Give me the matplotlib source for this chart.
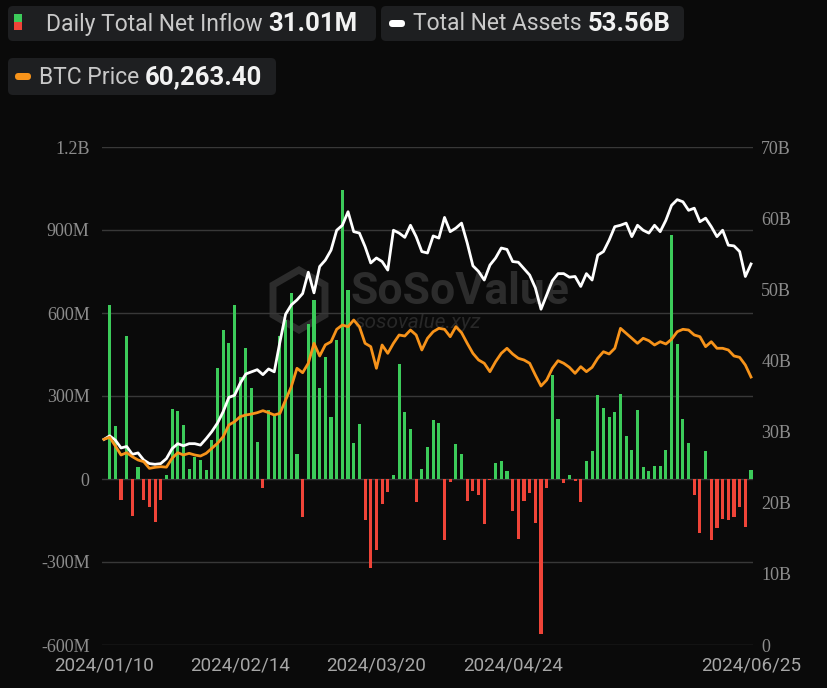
import matplotlib
matplotlib.use("Agg")
import matplotlib.pyplot as plt
from matplotlib import font_manager
from matplotlib.patches import FancyBboxPatch, Rectangle, RegularPolygon
from matplotlib.transforms import IdentityTransform
import pandas as pd

# trading days (US market), 2024/01/10 .. 2024/06/25
holidays = ["2024-01-15", "2024-02-19", "2024-03-29", "2024-05-27", "2024-06-19"]
dates = [d for d in pd.bdate_range("2024-01-10", "2024-06-25") if d.strftime("%Y-%m-%d") not in holidays]

# daily total net inflow, million USD
net_inflow = [
    0, 630, 190, -77, 516, -133, 42, -75, -101, -155,
    -77, 13, 254, 246, 196, 37, 80, 67, 34, 140,
    402, 540, 493, 630, 370, 475, 330, 134, -33, 250,
    227, 518, 576, 672, 92, -137, 562, 646, 330, 441,
    224, 501, 1044, 682, 131, 200, -149, -322, -258, -89,
    -47, 16, 417, 242, 182, -83, 37, 116, 212, 202,
    -219, -12, 125, 92, -80, -45, -58, -163, -3, 58,
    64, 28, -117, -217, -81, -49, -159, -559, -31, 375,
    218, -13, 13, -7, -83, 65, 101, 302, 258, 224,
    242, 306, 154, 106, 251, 43, 28, 48, 48, 104,
    883, 487, 217, 130, -59, -195, 100, -222, -178, -145,
    -149, -137, -102, -173, 31.01,
]

# total net assets, billion USD
net_assets = [
    28.9, 29.4, 28.8, 27.7, 27.9, 26.8, 27.0, 26.0, 25.5, 25.4,
    25.5, 26.2, 27.6, 28.3, 28.0, 28.3, 28.3, 28.1, 29.0, 30.0,
    31.2, 32.8, 34.8, 35.1, 36.8, 38.1, 38.4, 38.7, 38.0, 38.8,
    38.4, 42.6, 46.5, 47.8, 48.5, 49.4, 52.4, 49.5, 53.2, 54.1,
    55.5, 58.3, 59.0, 60.9, 58.1, 57.9, 56.0, 53.7, 54.4, 53.9,
    52.7, 58.3, 57.9, 57.3, 59.0, 57.4, 55.3, 55.1, 57.5, 57.2,
    60.1, 58.1, 58.6, 59.3, 56.5, 53.3, 52.5, 51.3, 53.4, 54.4,
    55.8, 55.6, 53.9, 53.8, 52.9, 52.0, 50.2, 47.2, 49.2, 51.2,
    52.2, 52.2, 51.7, 51.8, 50.4, 52.2, 51.3, 54.8, 55.3, 56.9,
    58.8, 59.0, 59.3, 57.4, 59.0, 58.3, 57.9, 59.0, 58.1, 59.7,
    61.8, 62.6, 62.3, 61.1, 61.4, 59.5, 60.0, 58.8, 57.4, 58.3,
    56.2, 56.1, 55.3, 51.8, 53.56,
]

# BTC price, USD
btc_price = [
    46260, 46710, 44760, 42730, 43250, 42350, 41610, 41230, 39730, 39960,
    40100, 40000, 41990, 43250, 42730, 43110, 42730, 42500, 43110, 44240,
    45360, 46850, 49480, 50220, 51350, 51730, 51950, 52250, 52700, 52250,
    51730, 52100, 55100, 58090, 62230, 61240, 63360, 67850, 65000, 67500,
    68200, 71000, 71970, 71590, 73090, 71590, 67850, 67100, 62230, 67470,
    65600, 67850, 69720, 69490, 70840, 69720, 66350, 68980, 70460, 71220,
    71000, 69340, 71590, 70240, 67850, 65600, 64100, 63360, 61470, 63730,
    65600, 66730, 65450, 64480, 64100, 63360, 60720, 58250, 59600, 62230,
    63940, 63360, 62450, 61100, 62600, 61470, 62450, 64500, 65960, 65450,
    66730, 71220, 70100, 68980, 67850, 68980, 68440, 67470, 68210, 67700,
    68750, 70460, 71000, 70840, 69720, 69340, 67100, 68210, 66730, 66730,
    66350, 65000, 64700, 62970, 60263.40,
]

left_ticks = [-600, -300, 0, 300, 600, 900, 1200]
left_labels = ["-600M", "-300M", "0", "300M", "600M", "900M", "1.2B"]
right_ticks = [0, 10, 20, 30, 40, 50, 60, 70]
right_labels = ["0"] + ["%dB" % v for v in right_ticks[1:]]
date_ticks = [0, 24, 48, 72, 114]

BG = "#0a0a0a"
GREEN = "#3ccb5a"
RED = "#ef4438"
ORANGE = "#f7931a"
BOX = "#1e1f21"
W, H = 827, 688

names = {f.name for f in font_manager.fontManager.ttflist}
SANS = "Roboto" if "Roboto" in names else "DejaVu Sans"
SERIF = "Liberation Serif" if "Liberation Serif" in names else "DejaVu Serif"

fig = plt.figure(figsize=(W / 100, H / 100), dpi=100, facecolor=BG)
px = IdentityTransform()

ax = fig.add_axes([102 / W, 43 / H, 651 / W, 498 / H])
ax.set_facecolor("none")
idx = list(range(len(dates)))
colors = [GREEN if v >= 0 else RED for v in net_inflow]
ax.bar(idx, net_inflow, width=0.55, color=colors, zorder=2)
ax.set_xlim(-0.35, len(dates) - 1 + 0.35)
ax.set_ylim(-600, 1200)
ax.set_yticks(left_ticks)
ax.set_yticklabels(left_labels, fontfamily=SERIF, fontsize=13, color="#8c8c8c")
ax.set_xticks(date_ticks)
ax.set_xticklabels([dates[i].strftime("%Y/%m/%d") for i in date_ticks],
                   fontfamily=SANS, fontsize=13.5, color="#a6a6a6")
ax.grid(axis="y", color="#383838", lw=1)
ax.set_axisbelow(True)
ax.tick_params(length=0)
ax.tick_params(axis="y", pad=9)
ax.tick_params(axis="x", pad=8)
for s in ax.spines.values():
    s.set_visible(False)

ax2 = ax.twinx()
ax2.plot(idx, net_assets, color="white", lw=2, zorder=3)
ax2.set_ylim(0, 70)
ax2.set_yticks(right_ticks)
ax2.set_yticklabels(right_labels, fontfamily=SERIF, fontsize=13, color="#8c8c8c")
ax2.tick_params(length=0, pad=6)
for s in ax2.spines.values():
    s.set_visible(False)

ax3 = ax.twinx()
ax3.plot(idx, btc_price, color=ORANGE, lw=2, zorder=3)
ax3.set_ylim(0, 112000)
ax3.axis("off")

# watermark
fig.add_artist(RegularPolygon((299, H - 300), 6, radius=30, orientation=0,
                              transform=px, facecolor="none", edgecolor="#2c2c2c", lw=5, zorder=-1))
fig.text(350, H - 292, "SoSoValue", transform=px, fontsize=32, fontweight="bold",
         fontfamily=SANS, color="#2c2c2c", va="center", ha="left", zorder=-1)
fig.text(355, H - 323, "sosovalue.xyz", transform=px, fontsize=15, style="italic",
         fontfamily=SANS, color="#282828", va="center", ha="left", zorder=-1)

# legend boxes
def box(x0, y0, x1, y1):
    fig.add_artist(FancyBboxPatch((x0, H - y1), x1 - x0, y1 - y0,
                                  boxstyle="round,pad=0,rounding_size=5",
                                  transform=px, facecolor=BOX, edgecolor="none"))

box(8, 6, 376, 41)
box(381, 6, 684, 41)
box(8, 58, 276, 95)

fig.add_artist(Rectangle((14, H - 22), 8, 8, transform=px, facecolor=GREEN, edgecolor="none"))
fig.add_artist(Rectangle((14, H - 30), 8, 8, transform=px, facecolor=RED, edgecolor="none"))
fig.add_artist(FancyBboxPatch((389, H - 27), 16, 7, boxstyle="round,pad=0,rounding_size=3.5",
                              transform=px, facecolor="white", edgecolor="none"))
fig.add_artist(FancyBboxPatch((15, H - 80), 16, 7, boxstyle="round,pad=0,rounding_size=3.5",
                              transform=px, facecolor=ORANGE, edgecolor="none"))

legend_items = [
    (46, 24, "Daily Total Net Inflow", "%.2fM" % net_inflow[-1]),
    (413, 24, "Total Net Assets", "%.2fB" % net_assets[-1]),
    (39, 77, "BTC Price", "{:,.2f}".format(btc_price[-1])),
]
fig.canvas.draw()
renderer = fig.canvas.get_renderer()
for x, y, label, value in legend_items:
    t = fig.text(x, H - y, label, transform=px, fontsize=16.5, fontfamily=SANS,
                 color="#c9c9c9", va="center", ha="left")
    x_end = t.get_window_extent(renderer).x1
    fig.text(x_end + 6, H - y, value, transform=px, fontsize=18.5, fontfamily=SANS,
             fontweight="bold", color="#f2f2f2", va="center", ha="left")

fig.savefig("out.png", dpi=100, facecolor=BG)
